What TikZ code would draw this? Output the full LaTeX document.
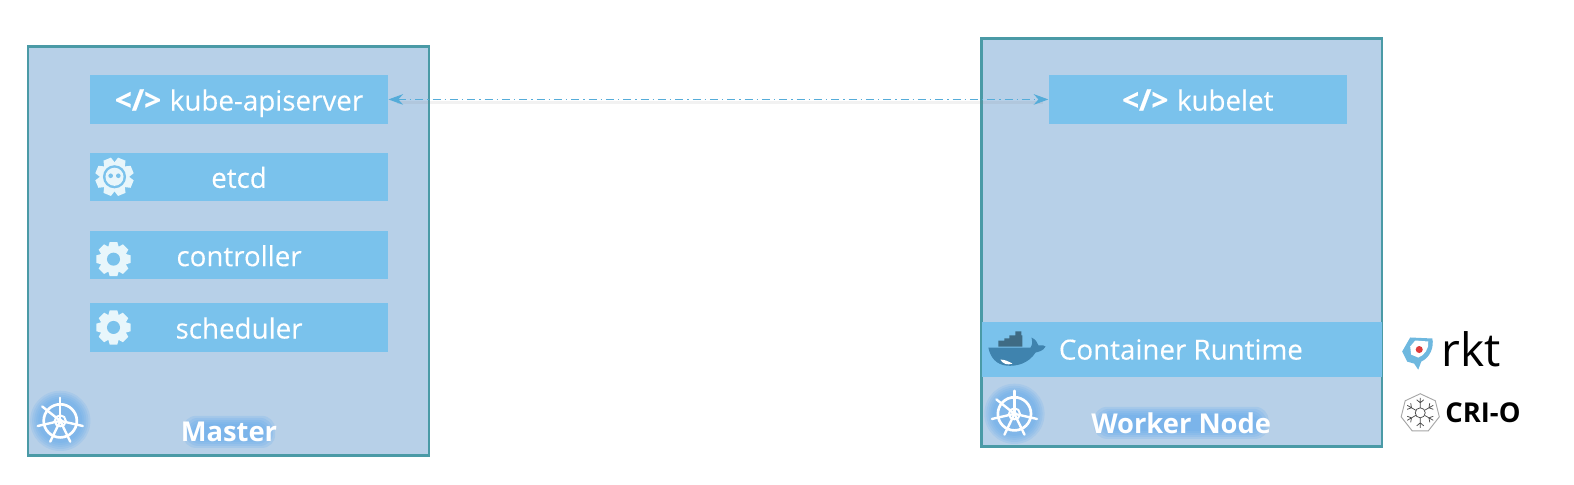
\documentclass[tikz,border=0pt]{standalone}
\usepackage{fontspec}
\setmainfont{Open Sans}
\usetikzlibrary{arrows.meta}
\definecolor{panelc}{HTML}{B7D0E8}
\definecolor{barc}{HTML}{7AC2EC}
\definecolor{edgec}{HTML}{4A9AA6}
\definecolor{linkc}{HTML}{55ACD9}
\definecolor{glowc}{HTML}{5FA8EE}
\definecolor{iconc}{HTML}{E8F6FB}
\definecolor{whalec}{HTML}{3F83AE}
\definecolor{boxc}{HTML}{3F6B84}
\newcommand{\pxu}{0.7533pt}
\newcommand{\barfont}{\fontsize{20.8pt}{24pt}\selectfont\addfontfeature{FakeBold=0.2}}
\newcommand{\codemark}{{\bfseries\fontsize{22.3pt}{24pt}\selectfont</>}\hspace{6.5pt}}
\tikzset{
  panel/.style={draw=edgec,fill=panelc,line width=1.9pt,minimum width=399*\pxu,inner sep=0pt},
  bar/.style={fill=barc,inner sep=0pt,minimum width=297*\pxu,minimum height=48*\pxu,text=white,font=\barfont,text height=20pt,text depth=3.4pt},
  title/.style={text=white,font=\bfseries\fontsize{20.5pt}{24pt}\selectfont,inner sep=0pt},
  link/.style={draw=linkc,line width=0.9pt,dash pattern=on 6pt off 3pt on 1pt off 3pt,{Stealth[length=11pt,width=8pt]}-{Stealth[length=11pt,width=8pt]}},
  linkshadow/.style={draw=gray,opacity=.10,line width=1.8pt},
}
\newcommand{\gearicon}[2]{%
  \begin{scope}[shift={#1}]
    \fill[iconc] (0,0) circle (13.5);
    \foreach \a in {0,45,...,315}{\fill[iconc,rotate=\a,line join=round] (-5.5,-11) -- (-3.8,-17) -- (3.8,-17) -- (5.5,-11) -- cycle;}
    \fill[barc] (0,0) circle (#2);
  \end{scope}}
\newcommand{\etcdicon}[1]{%
  \begin{scope}[shift={#1}]
    \fill[iconc] (0,0) circle (14.5);
    \foreach \a in {0,45,...,315}{\fill[iconc,rotate=\a+22.5] (-6,-12) -- (-4,-19) -- (4,-19) -- (6,-12) -- cycle;}
    \fill[barc] (0,0) circle (11.5);
    \fill[iconc] (0,0) circle (9);
    \fill[barc] (-3.8,-1) circle (2.3) (3.8,-1) circle (2.3);
  \end{scope}}
\newcommand{\wheelicon}[1]{%
  \begin{scope}[shift={#1}]
    \foreach \r in {30,28,26,24,22}{\fill[glowc,opacity=.17] (0,0) circle (\r);}
    \draw[white,line width=2pt] (0,0) circle (16.5);
    \draw[white,line width=1.5pt] (0,0) circle (5.5);
    \foreach \a in {0,51.43,...,308}{\draw[white,line width=1.8pt,line cap=round,rotate=\a] (0,0) -- (0,-23);}
    \fill[white] (0,0) circle (2.5);
  \end{scope}}
\newcommand{\titleglow}[3]{%
  \begin{scope}[shift={#1}]
    \foreach \k in {0,2,4,6,8}{\fill[glowc,opacity=.2,rounded corners=10pt] (-#2-\k,-#3-\k) rectangle (#2+\k,#3+\k);}
  \end{scope}}
\begin{document}
\begin{tikzpicture}[x=\pxu,y=-\pxu]
\useasboundingbox (0,0) rectangle (1567.1,481.9);
\fill[white] (0,0) rectangle (1567.1,481.9);
% panels
\node[panel,minimum height=407*\pxu] (master) at (227.5,250) {};
\node[panel,minimum height=406*\pxu] (worker) at (1176.5,241.5) {};
% bars
\node[bar] (api) at (238,99) {\codemark kube-apiserver};
\node[bar] (etcd) at (238,176) {etcd};
\node[bar] (ctrl) at (238,254) {controller};
\node[bar] (sched) at (238,326) {scheduler};
\node[bar] (kubelet) at (1192.5,99) {\codemark kubelet};
\node[bar,minimum width=398*\pxu,minimum height=54*\pxu] (runtime) at (1177,348) {};
\node[text=white,font=\barfont,inner sep=0pt,anchor=west] (runtimetext) at (1054,348) {Container Runtime};
% connector
\coordinate (sa) at (395,102);
\coordinate (sb) at (1038,102);
\draw[linkshadow] (sa) -- (sb);
\draw[link] (api.east) -- (kubelet.west);
% icons
\etcdicon{(114,176)}
\gearicon{(113,258)}{6.5}
\gearicon{(113,326)}{6.5}
\wheelicon{(60,419)}
\wheelicon{(1010,412)}
% titles
\titleglow{(228,430)}{38}{8}
\titleglow{(1176,421)}{79}{8}
\node[title] (mastertitle) at (228,430) {Master};
\node[title] (workertitle) at (1176,421) {Worker Node};
% docker whale
\fill[boxc] (994,345) rectangle (1018,339) (1000,339) rectangle (1018,337) (1005,337) rectangle (1018,334) (1011,334) rectangle (1017,330);
\fill[whalec] (984,346) -- (1026,346) .. controls (1029,342) and (1027,338) .. (1027,336) .. controls (1031,338) and (1033,341) .. (1034,344) .. controls (1037,343) and (1040,344) .. (1041,345) .. controls (1038,350) and (1034,350) .. (1031,351) .. controls (1024,362) and (1012,365) .. (1002,364) .. controls (992,363) and (986,356) .. (984,346) -- cycle;
\fill[white] (996,358) .. controls (1001,358) and (1004,360) .. (1008,362) .. controls (1003,364) and (998,362) .. (996,358) -- cycle;
% rkt logo
\fill[linkc!85!white] (1396,350) -- (1404,336) -- (1426,337) .. controls (1428,345) and (1424,356) .. (1415,360) -- (1412,368) -- (1408,362) -- (1401,360) -- cycle;
\fill[white] (1404,345) -- (1409,339) -- (1422,340) .. controls (1423,347) and (1418,354) .. (1412,356) -- (1405,353) -- cycle;
\fill[red!70!gray!90] (1413,348) circle (3.5);
\node[inner sep=0pt,font=\fontsize{34.5pt}{38pt}\selectfont,text=black] (rkt) at (1465,348) {rkt};
% cri-o logo
\begin{scope}[shift={(1414,411)}]
  \draw[gray!70,fill=white,line width=.7pt] (0,-19) -- (15,-12) -- (19,4) -- (8,18) -- (-8,18) -- (-19,4) -- (-15,-12) -- cycle;
  \foreach \a in {0,60,...,300}{
    \draw[black!70,line width=.55pt,rotate=\a] (0,-5) -- (0,-15) (-3.5,-13) -- (0,-10) -- (3.5,-13);
  }
  \draw[black!70,line width=.55pt] (0,0) circle (5);
\end{scope}
\node[inner sep=0pt,font=\bfseries\fontsize{20.5pt}{24pt}\selectfont,text=black] (crio) at (1476.5,411) {CRI-O};
\end{tikzpicture}
\end{document}
